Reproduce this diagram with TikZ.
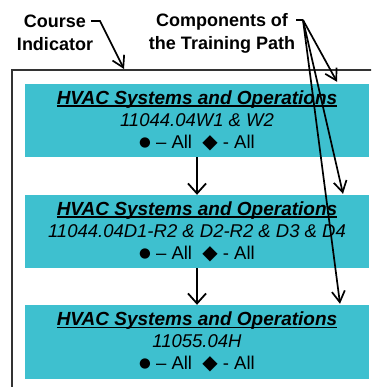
\documentclass[tikz,border=0pt]{standalone}
\usepackage{fontspec}
\setmainfont{Liberation Sans}
\newfontfamily\symfont{DejaVu Sans}
\usetikzlibrary{arrows.meta}

\definecolor{pathcyan}{HTML}{3EC0CF}
\definecolor{framegray}{HTML}{333333}

% underlined course title
\newcommand\titleline[1]{\setbox0\hbox{\fontsize{19}{22}\selectfont\bfseries\itshape #1}\rlap{\rule[-2.4pt]{\wd0}{1.3pt}}\box0}
% bullet and diamond marks
\newcommand\bulletmark{\raisebox{2pt}{\symfont\fontsize{13.5}{22}\selectfont ●}}
\newcommand\diamondmark{{\symfont\fontsize{20}{22}\selectfont ◆}}

\tikzset{
	coursebox/.style={fill=pathcyan, minimum width=344pt, minimum height=73pt, inner sep=0pt,
		align=center, font=\fontsize{18.5}{22}\selectfont},
	label/.style={align=center, font=\fontsize{18}{23}\selectfont\bfseries},
	flow/.style={-{Straight Barb[length=10pt,width=18pt]}, line width=1.8pt, black},
	callout/.style={-{Straight Barb[length=11pt,width=13pt]}, line width=1.7pt, black}
}

\begin{document}
\begin{tikzpicture}[x=1pt, y=-1pt]
	\clip (0,0) rectangle (371,387);
	\useasboundingbox (0,0) rectangle (371,387);

	% Outer frame
	\draw[framegray, line width=1.8pt] (12,70) rectangle (400,410);

	% Training path
	\node[coursebox] (box1) at (197,120.5) {\titleline{HVAC Systems and Operations}\\
		\itshape 11044.04W1 \& W2\\
		\bulletmark{} – All\ \ \diamondmark{} - All};
	\node[coursebox] (box2) at (197,231.5) {\titleline{HVAC Systems and Operations}\\
		\itshape 11044.04D1-R2 \& D2-R2 \& D3 \& D4\\
		\bulletmark{} – All\ \ \diamondmark{} - All};
	\node[coursebox, minimum height=74pt] (box3) at (197,342) {\titleline{HVAC Systems and Operations}\\
		\itshape 11055.04H\\
		\bulletmark{} – All\ \ \diamondmark{} - All};

	\draw[flow] (box1) -- (box2);
	\draw[flow] (box2) -- (box3);

	% Labels
	\node[label] (course) at (55,33) {Course\\Indicator};
	\node[label] (components) at (222,33) {Components of\\the Training Path};

	\coordinate (ci hook) at (91,21);
	\coordinate (ci tip) at (124,69);
	\draw[callout] (ci hook) -- ++(9,0) -- (ci tip);

	\coordinate (cp hook) at (296,20);
	\draw[line width=1.7pt] (cp hook) -- ++(7,0) coordinate (cp start);
	\foreach \b/\dx/\dy in {box1/140/2, box2/146/1, box3/143/1} {
		\draw[callout] (cp start) -- ([xshift=\dx pt, yshift=\dy pt]\b.north);
	}
\end{tikzpicture}
\end{document}
